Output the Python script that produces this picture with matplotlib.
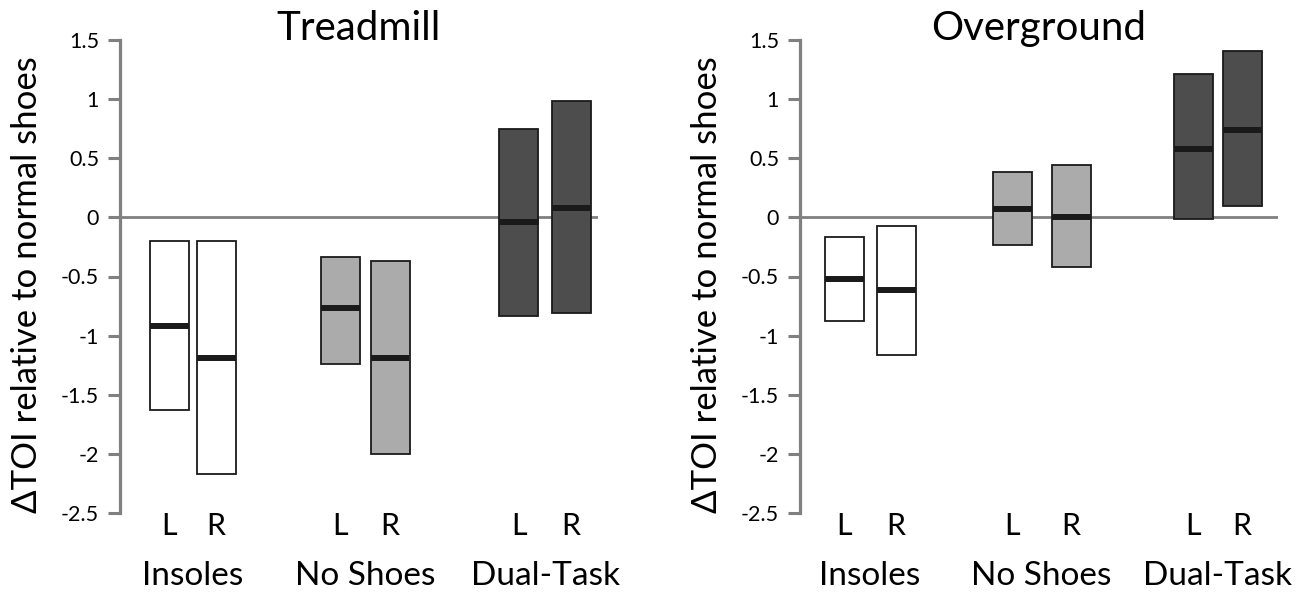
import matplotlib.pyplot as plt
import numpy as np

plt.rcParams['font.family'] = ['Lato', 'DejaVu Sans']

conditions = ["Insoles", "No Shoes", "Dual-Task"]
sides = ["L", "R"]
tick_values = [1.5, 1, 0.5, 0, -0.5, -1, -1.5, -2, -2.5]
tick_labels = ["1.5", "1", "0.5", "0", "-0.5", "-1", "-1.5", "-2", "-2.5"]

# order: Insoles L, Insoles R, No Shoes L, No Shoes R, Dual-Task L, Dual-Task R
treadmill_high = [-0.20, -0.20, -0.335, -0.37, 0.75, 0.98]
treadmill_low = [-1.63, -2.17, -1.24, -2.00, -0.83, -0.81]
treadmill_median = [-0.92, -1.19, -0.77, -1.19, -0.04, 0.08]

overground_high = [-0.17, -0.07, 0.38, 0.44, 1.21, 1.41]
overground_low = [-0.88, -1.16, -0.23, -0.42, -0.01, 0.10]
overground_median = [-0.52, -0.61, 0.07, 0.005, 0.58, 0.74]

fills = ["white", "white", "#ababab", "#ababab", "#4d4d4d", "#4d4d4d"]

# box centres in pixel units from the y axis
treadmill_x = [49, 96, 220, 270, 399, 451]
overground_x = [44, 96, 212, 271, 393, 442]
box_w = 39

fig = plt.figure(figsize=(13.02, 5.95), dpi=100)
ax1 = fig.add_axes([120 / 1302, 82 / 595, 478 / 1302, 473 / 595])
ax2 = fig.add_axes([800 / 1302, 82 / 595, 478 / 1302, 473 / 595])

panels = [
    (ax1, "Treadmill", treadmill_x, treadmill_high, treadmill_low, treadmill_median, 27 / 1302),
    (ax2, "Overground", overground_x, overground_high, overground_low, overground_median, 707 / 1302),
]

for ax, title, xs, hi, lo, med, ylab_x in panels:
    ax.axhline(0, color="#808080", lw=2, zorder=1)
    hi = np.array(hi)
    lo = np.array(lo)
    ax.bar(xs, hi - lo, bottom=lo, width=box_w, color=fills,
           edgecolor="#1a1a1a", linewidth=1.3, zorder=2)
    for x, m in zip(xs, med):
        ax.plot([x - box_w / 2, x + box_w / 2], [m, m], color="#1a1a1a",
                lw=4.3, solid_capstyle="butt", zorder=3)

    ax.set_xlim(0, 478)
    ax.set_ylim(-2.5, 1.5)
    ax.set_yticks(tick_values)
    ax.set_yticklabels(tick_labels, fontsize=15.5)
    ax.set_xticks([])
    for s in ["top", "right", "bottom"]:
        ax.spines[s].set_visible(False)
    ax.spines["left"].set_color("#808080")
    ax.spines["left"].set_linewidth(2.3)
    ax.tick_params(axis="y", length=9, width=2.2, color="#808080", pad=6)
    ax.text(0.5, 1.0, title, transform=ax.transAxes, ha="center",
            va="baseline", fontsize=29)

    for i, x in enumerate(xs):
        ax.text(x, -2.5 - 13 / 118.4, sides[i % 2], ha="center",
                va="center", fontsize=22, clip_on=False)
    for j, name in enumerate(conditions):
        cx = (xs[2 * j] + xs[2 * j + 1]) / 2
        ax.text(cx, -2.5 - 63 / 118.4, name, ha="center", va="center",
                fontsize=24, clip_on=False)

    fig.text(ylab_x, 1 - 285 / 595, "ΔTOI relative to normal shoes",
             rotation=90, ha="center", va="center", fontsize=25)

fig.savefig("out.png", dpi=100)
